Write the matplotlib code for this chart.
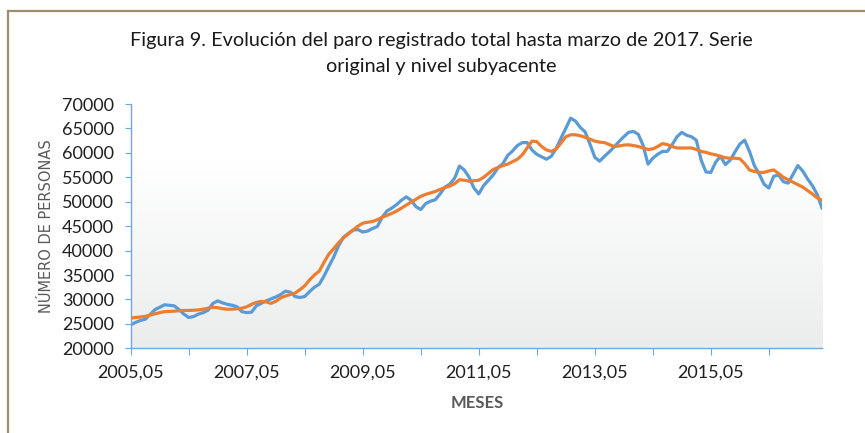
import numpy as np
import matplotlib.pyplot as plt
from matplotlib.colors import LinearSegmentedColormap
from matplotlib.lines import Line2D

# monthly data, 2005.05 -> 2017.04 (144 months)
serie_original = [
    24800, 25300, 25700, 25950, 26900, 27900, 28400, 28900, 28800, 28700,
    27900, 27000, 26300, 26500, 27000, 27300, 27800, 29200, 29700, 29300,
    29000, 28800, 28500, 27500, 27300, 27400, 28700, 29200, 29700, 30100,
    30500, 31000, 31700, 31500, 30600, 30400, 30600, 31600, 32500, 33100,
    34800, 36800, 38700, 41000, 42700, 43500, 44200, 44300, 43800, 44000,
    44500, 44900, 46800, 48100, 48700, 49400, 50300, 51000, 50300, 49000,
    48400, 49600, 50100, 50400, 51600, 53000, 53600, 54800, 57300, 56500,
    55000, 52800, 51600, 53300, 54400, 55500, 57000, 57800, 59500, 60400,
    61500, 62100, 62100, 60600, 59700, 59200, 58700, 59300, 60900, 63000,
    65000, 67100, 66500, 65200, 64300, 61800, 59100, 58300, 59300, 60200,
    61200, 62300, 63300, 64200, 64400, 63800, 61500, 57700, 58900, 59700,
    60300, 60300, 61700, 63300, 64200, 63600, 63300, 62600, 58500, 56100,
    56000, 58100, 59300, 57600, 58500, 60200, 61800, 62600, 60300, 57400,
    55700, 53600, 52800, 55200, 55500, 54100, 53800, 55600, 57400, 56300,
    54700, 53300, 51500, 48700,
]

nivel_subyacente = [
    26200, 26300, 26400, 26550, 26800, 27050, 27300, 27500, 27550, 27600,
    27700, 27750, 27750, 27800, 27850, 28000, 28200, 28400, 28300, 28100,
    28000, 28000, 28100, 28200, 28500, 29000, 29400, 29600, 29500, 29200,
    29600, 30300, 30700, 31000, 31300, 32000, 32800, 34000, 35000, 35800,
    37600, 39300, 40400, 41600, 42600, 43400, 44200, 45000, 45600, 45800,
    45950, 46300, 46800, 47200, 47600, 48100, 48700, 49300, 49900, 50500,
    51100, 51500, 51800, 52100, 52500, 52900, 53200, 53700, 54500, 54400,
    54200, 54300, 54400, 55000, 55800, 56600, 57000, 57400, 57700, 58200,
    58700, 59600, 61000, 62400, 62300, 61300, 60600, 60300, 60800, 62000,
    63300, 63700, 63700, 63500, 63200, 62800, 62400, 62200, 62100, 61700,
    61300, 61400, 61600, 61650, 61500, 61300, 61000, 60700, 60800, 61300,
    61900, 61700, 61300, 61000, 61000, 61000, 61000, 60700, 60300, 60100,
    59800, 59600, 59300, 59000, 58900, 58900, 58800, 57800, 56500, 56200,
    56000, 56000, 56300, 56500, 55800, 55000, 54500, 54000, 53500, 53000,
    52300, 51600, 50800, 50300,
]

tick_labels = ["2005,05", "2007,05", "2009,05", "2011,05", "2013,05", "2015,05"]

meses = np.arange(len(serie_original))

fig = plt.figure(figsize=(8.65, 4.33), dpi=100)
ax = fig.add_axes([0.1511, 0.1956, 0.7992, 0.5642])

# plot area gradient (white at top, light grey at bottom)
cmap = LinearSegmentedColormap.from_list("grad", ["#ebeded", "#ffffff"])
grad = np.linspace(0, 1, 256).reshape(-1, 1)
ax.imshow(grad, cmap=cmap, origin="lower", aspect="auto",
          extent=[0, meses[-1], 20000, 58500], zorder=0)

ax.plot(meses, serie_original, color="#5b9bd5", lw=2.3, zorder=2)
ax.plot(meses, nivel_subyacente, color="#ed7d31", lw=2.3, zorder=3)

ax.set_xlim(0, meses[-1])
ax.set_ylim(20000, 70000)
ax.set_yticks(np.arange(20000, 70001, 5000))
ax.set_xticks(np.arange(0, meses[-1], 12))
ax.set_xticklabels([tick_labels[i // 2] if i % 2 == 0 else ""
                    for i in range(len(ax.get_xticks()))])

for side in ["top", "right"]:
    ax.spines[side].set_visible(False)
for side in ["left", "bottom"]:
    ax.spines[side].set_color("#6fa8dc")
    ax.spines[side].set_linewidth(1.0)

ax.tick_params(axis="y", direction="out", length=4, color="#6fa8dc",
               labelsize=13, labelcolor="#1f1f1f", pad=8)
ax.tick_params(axis="x", direction="out", length=5, color="#6fa8dc",
               labelsize=13, labelcolor="#1f1f1f", pad=7)
for lab in ax.get_xticklabels() + ax.get_yticklabels():
    lab.set_family("Lato")

ax.set_ylabel("NÚMERO DE PERSONAS", fontsize=10.5, color="#595959",
              family="DejaVu Sans")
ax.yaxis.set_label_coords(-0.111, 0.5)
fig.text(0.552, 0.069, "MESES", fontsize=12, color="#595959",
         family="Lato", fontweight="bold", ha="center", va="center")

fig.text(0.51, 0.907, "Figura 9. Evolución del paro registrado total hasta marzo de 2017. Serie",
         fontsize=14.3, family="Lato", color="#1a1a1a", ha="center", va="center")
fig.text(0.51, 0.847, "original y nivel subyacente",
         fontsize=14.3, family="Lato", color="#1a1a1a", ha="center", va="center")

# outer frame (top and left edges)
fig.add_artist(Line2D([8 / 865, 1.0], [1 - 11 / 433, 1 - 11 / 433],
                      transform=fig.transFigure, color="#a08c6e", lw=1.6))
fig.add_artist(Line2D([8 / 865, 8 / 865], [1 - 11 / 433, 0.0],
                      transform=fig.transFigure, color="#a08c6e", lw=1.6))

fig.savefig("out.png", dpi=100)
